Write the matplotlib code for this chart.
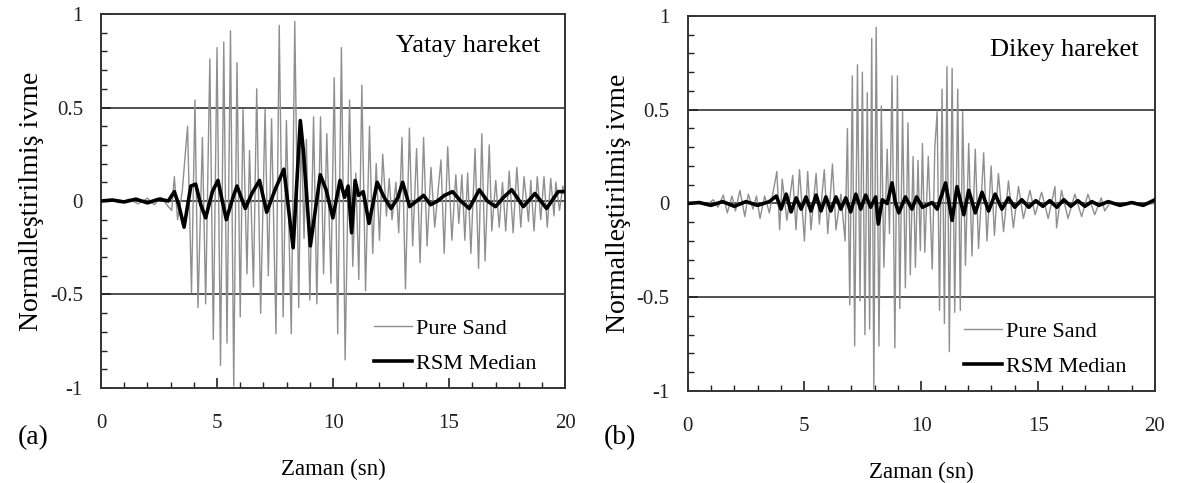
import matplotlib
matplotlib.use("Agg")
import matplotlib.pyplot as plt
from matplotlib.ticker import MultipleLocator

plt.rcParams["font.family"] = ["Liberation Serif", "DejaVu Serif"]

# (a) Yatay hareket - Pure Sand, peak values
yatay_sand_t = [0.0, 0.4, 0.8, 1.2, 1.6, 2.0, 2.3, 2.6, 2.9, 3.05, 3.16, 3.3, 3.5,
                3.73, 3.9, 4.05, 4.18, 4.37, 4.51, 4.69, 4.84, 5.0, 5.15, 5.29, 5.43,
                5.58, 5.72, 5.86, 6.0, 6.12, 6.29, 6.4, 6.57, 6.71, 6.88, 7.07, 7.21,
                7.35, 7.54, 7.68, 7.85, 7.99, 8.2, 8.35, 8.52, 8.63, 8.75, 8.85, 9.0,
                9.16, 9.3, 9.46, 9.59, 9.73, 9.91, 10.05, 10.2, 10.36, 10.52, 10.71,
                10.85, 10.98, 11.11, 11.24, 11.4, 11.57, 11.71, 11.86, 12.0, 12.14,
                12.3, 12.42, 12.54, 12.71, 12.83, 12.97, 13.12, 13.29, 13.43, 13.6,
                13.75, 13.9, 14.05, 14.22, 14.38, 14.65, 14.79, 14.94, 15.12, 15.29,
                15.42, 15.55, 15.68, 15.8, 15.94, 16.12, 16.27, 16.41, 16.55, 16.73,
                16.84, 17.01, 17.16, 17.3, 17.44, 17.59, 17.76, 17.92, 18.09, 18.23,
                18.42, 18.52, 18.66, 18.8, 18.95, 19.09, 19.23, 19.38, 19.52, 19.6,
                19.76, 19.9, 20.0]
yatay_sand_v = [0.0, 0.01, -0.01, 0.01, -0.015, 0.015, -0.02, 0.02, -0.03, -0.05, 0.13, -0.10, 0.05,
                0.40, -0.49, 0.54, -0.57, 0.34, -0.55, 0.76, -0.74, 0.82, -0.88, 0.85, -0.76,
                0.91, -0.99, 0.74, -0.62, 0.49, -0.39, 0.27, -0.46, 0.60, -0.60, 0.49, -0.40,
                0.44, -0.71, 0.94, -0.62, 0.43, -0.71, 0.96, -0.57, 0.40, -0.20, 0.33, -0.53,
                0.45, -0.55, 0.45, -0.39, 0.36, -0.44, 0.66, -0.71, 0.82, -0.85, 0.54,
                -0.35, 0.15, -0.42, 0.62, -0.48, 0.40, -0.28, 0.20, -0.21, 0.25,
                -0.08, 0.12, -0.10, 0.10, -0.17, 0.34, -0.47, 0.39, -0.24, 0.28,
                -0.33, 0.34, -0.24, 0.18, -0.14, 0.22, -0.28, 0.29, -0.21, 0.14,
                -0.12, 0.14, -0.21, 0.15, -0.28, 0.28, -0.36, 0.36, -0.32, 0.30,
                -0.16, 0.11, -0.14, 0.10, -0.16, 0.16, -0.17, 0.18, -0.14, 0.13,
                -0.11, 0.11, -0.16, 0.13, -0.10, 0.13, -0.14, 0.12, -0.08, 0.10,
                -0.05, 0.08, 0.02]

# (a) Yatay hareket - RSM Median
yatay_rsm_t = [0.0, 0.5, 1.0, 1.5, 2.0, 2.5, 2.9, 3.16, 3.35, 3.58, 3.87, 4.08, 4.3, 4.51,
               4.8, 5.04, 5.4, 5.69, 5.86, 6.22, 6.5, 6.83, 7.14, 7.5, 7.88, 8.28, 8.59,
               8.72, 9.02, 9.45, 9.7, 9.99, 10.3, 10.5, 10.65, 10.8, 10.95, 11.1, 11.3,
               11.55, 11.9, 12.2, 12.5, 12.8, 13.0, 13.3, 13.6, 13.9, 14.2, 14.5, 14.8,
               15.15, 15.5, 15.87, 16.3, 16.65, 17.0, 17.35, 17.7, 18.2, 18.7, 19.2,
               19.7, 20.0]
yatay_rsm_v = [0.0, 0.005, -0.005, 0.01, -0.01, 0.01, 0.0, 0.05, -0.02, -0.14, 0.08, 0.09, -0.02, -0.09,
               0.05, 0.11, -0.10, 0.02, 0.08, -0.04, 0.04, 0.11, -0.06, 0.06, 0.17, -0.25, 0.43,
               0.27, -0.24, 0.14, 0.06, -0.09, 0.11, 0.02, 0.08, -0.17, 0.11, 0.03, 0.05,
               -0.12, 0.10, 0.02, -0.04, 0.02, 0.10, -0.03, 0.0, 0.03, -0.02, 0.0, 0.03,
               0.05, 0.0, -0.04, 0.06, 0.0, -0.03, 0.02, 0.06, -0.03, 0.04, -0.04,
               0.05, 0.05]

# (b) Dikey hareket - Pure Sand
dikey_sand_t = [0.0, 0.5, 0.8, 1.1, 1.3, 1.53, 1.7, 1.9, 2.05, 2.24, 2.45, 2.6, 2.8, 2.95,
                3.1, 3.3, 3.5, 3.82, 3.94, 4.05, 4.25, 4.5, 4.64, 4.79, 5.0, 5.14, 5.28,
                5.5, 5.64, 5.85, 6.0, 6.2, 6.35, 6.56, 6.74, 6.84, 6.94, 7.05, 7.15, 7.27,
                7.38, 7.48, 7.59, 7.69, 7.79, 7.88, 7.97, 8.07, 8.19, 8.29, 8.4, 8.54,
                8.64, 8.75, 8.87, 8.98, 9.08, 9.2, 9.32, 9.43, 9.53, 9.65, 9.75, 9.86,
                9.96, 10.05, 10.15, 10.3, 10.47, 10.58, 10.68, 10.78, 10.89, 10.99, 11.1,
                11.2, 11.32, 11.43, 11.56, 11.67, 11.77, 11.89, 12.03, 12.17, 12.31,
                12.45, 12.67, 12.81, 12.99, 13.13, 13.3, 13.52, 13.73, 13.94, 14.16,
                14.37, 14.65, 14.87, 15.15, 15.43, 15.72, 15.79, 16.0, 16.28, 16.57,
                16.86, 17.13, 17.42, 17.7, 17.85, 18.1, 18.5, 19.0, 19.5, 20.0]
dikey_sand_v = [0.0, 0.01, -0.01, 0.02, -0.02, 0.045, -0.05, 0.04, -0.04, 0.07, -0.07, 0.05, -0.03, 0.04,
                -0.08, 0.04, -0.05, 0.17, -0.14, 0.13, -0.09, 0.15, -0.14, 0.18, -0.20, 0.17, -0.14,
                0.16, -0.11, 0.18, -0.16, 0.21, -0.14, 0.05, -0.20, 0.40, -0.54, 0.68, -0.76, 0.74,
                -0.52, 0.70, -0.70, 0.59, -0.67, 0.88, -0.99, 0.94, -0.76, 0.52, -0.34, 0.29,
                -0.16, 0.68, -0.77, 0.68, -0.56, 0.49, -0.45, 0.43, -0.38, 0.25, -0.34, 0.23,
                -0.25, 0.32, -0.26, 0.25, -0.35, 0.30, 0.49, -0.57, 0.61, -0.64, 0.73,
                -0.79, 0.72, -0.58, 0.61, -0.57, 0.49, -0.33, 0.32, -0.28, 0.29,
                -0.24, 0.27, -0.20, 0.20, -0.17, 0.16, -0.15, 0.12, -0.13, 0.09,
                -0.08, 0.07, -0.06, 0.06, -0.08, 0.09, -0.13, 0.07, -0.08, 0.05,
                -0.07, 0.05, -0.06, 0.03, -0.04, 0.01, -0.01, 0.01, -0.005, 0.0]

# (b) Dikey hareket - RSM Median
dikey_rsm_t = [0.0, 0.5, 1.0, 1.5, 2.0, 2.5, 3.0, 3.5, 3.8, 4.0, 4.22, 4.43, 4.65, 4.86,
               5.07, 5.28, 5.5, 5.71, 5.92, 6.13, 6.35, 6.56, 6.77, 6.98, 7.2, 7.41, 7.62,
               7.83, 8.05, 8.16, 8.33, 8.54, 8.75, 8.9, 9.04, 9.32, 9.6, 9.8, 10.05,
               10.47, 10.68, 11.04, 11.32, 11.53, 11.82, 12.03, 12.31, 12.6, 12.88,
               13.16, 13.45, 13.73, 14.0, 14.3, 14.6, 14.9, 15.2, 15.5, 15.8, 16.1,
               16.4, 16.7, 17.0, 17.3, 17.6, 18.0, 18.5, 19.0, 19.5, 20.0]
dikey_rsm_v = [0.0, 0.005, -0.01, 0.01, -0.015, 0.01, -0.01, 0.01, 0.04, -0.03, 0.05, -0.045, 0.03, -0.03,
               0.035, -0.04, 0.045, -0.04, 0.035, -0.04, 0.035, -0.03, 0.03, -0.045, 0.05, -0.03, 0.045,
               -0.02, 0.035, -0.11, 0.02, 0.0, 0.11, 0.0, -0.05, 0.035, -0.03, 0.035, -0.02,
               0.005, -0.03, 0.11, -0.09, 0.09, -0.06, 0.07, -0.05, 0.06, -0.04,
               0.05, -0.03, 0.03, -0.02, 0.02, -0.02, 0.015, -0.015, 0.015, -0.02, 0.02,
               -0.015, 0.015, -0.015, 0.01, -0.01, 0.01, -0.01, 0.005, -0.01, 0.02]

y_ticks = [-1, -0.5, 0, 0.5, 1]
y_tick_labels = ["-1", "-0.5", "0", "0.5", "1"]
x_ticks = [0, 5, 10, 15, 20]


def draw_panel(ax, sand_t, sand_v, rsm_t, rsm_v, title, title_xy):
    for level in (-0.5, 0, 0.5):
        ax.axhline(level, color="#222222", lw=1.1, zorder=1)
    ax.plot(sand_t, sand_v, color="#8f8f8f", lw=1.0, label="Pure Sand", zorder=2)
    ax.plot(rsm_t, rsm_v, color="black", lw=2.6, label="RSM Median", zorder=3)

    ax.set_xlim(0, 20)
    ax.set_ylim(-1, 1)
    ax.set_xticks(x_ticks)
    ax.set_yticks(y_ticks)
    ax.set_yticklabels(y_tick_labels)
    ax.xaxis.set_minor_locator(MultipleLocator(1))
    ax.yaxis.set_minor_locator(MultipleLocator(0.1))
    ax.tick_params(which="both", direction="in", top=False, right=False,
                   labelsize=15, colors="#222222")
    ax.tick_params(which="major", length=7, width=1.2)
    ax.tick_params(which="minor", length=4, width=1.0)
    ax.tick_params(axis="x", which="major", pad=19)
    ax.tick_params(axis="y", which="major", pad=13)
    for spine in ax.spines.values():
        spine.set_linewidth(1.4)
        spine.set_color("#333333")

    ax.set_xlabel("Zaman (sn)", fontsize=16.5, labelpad=18)
    ax.set_ylabel("Normalleştirilmiş ivme", fontsize=20, labelpad=4)
    ax.text(title_xy[0], title_xy[1], title, transform=ax.transAxes,
            ha="right", va="center", fontsize=19)
    ax.legend(loc="lower right", bbox_to_anchor=(0.97, 0.0), frameon=False, fontsize=16,
              handlelength=1.7, handletextpad=0.2, labelspacing=0.65, borderaxespad=0.25)


fig = plt.figure(figsize=(11.84, 4.83), dpi=100)
ax_a = fig.add_axes([0.0853, 0.1967, 0.392, 0.7743])
ax_b = fig.add_axes([0.5807, 0.1905, 0.3948, 0.7764])

draw_panel(ax_a, yatay_sand_t, yatay_sand_v, yatay_rsm_t, yatay_rsm_v,
           "Yatay hareket", (0.946, 0.915))
draw_panel(ax_b, dikey_sand_t, dikey_sand_v, dikey_rsm_t, dikey_rsm_v,
           "Dikey hareket", (0.964, 0.908))

fig.text(0.028, 0.095, "(a)", fontsize=20, ha="center", va="center")
fig.text(0.524, 0.095, "(b)", fontsize=20, ha="center", va="center")

fig.savefig("out.png", dpi=100)
